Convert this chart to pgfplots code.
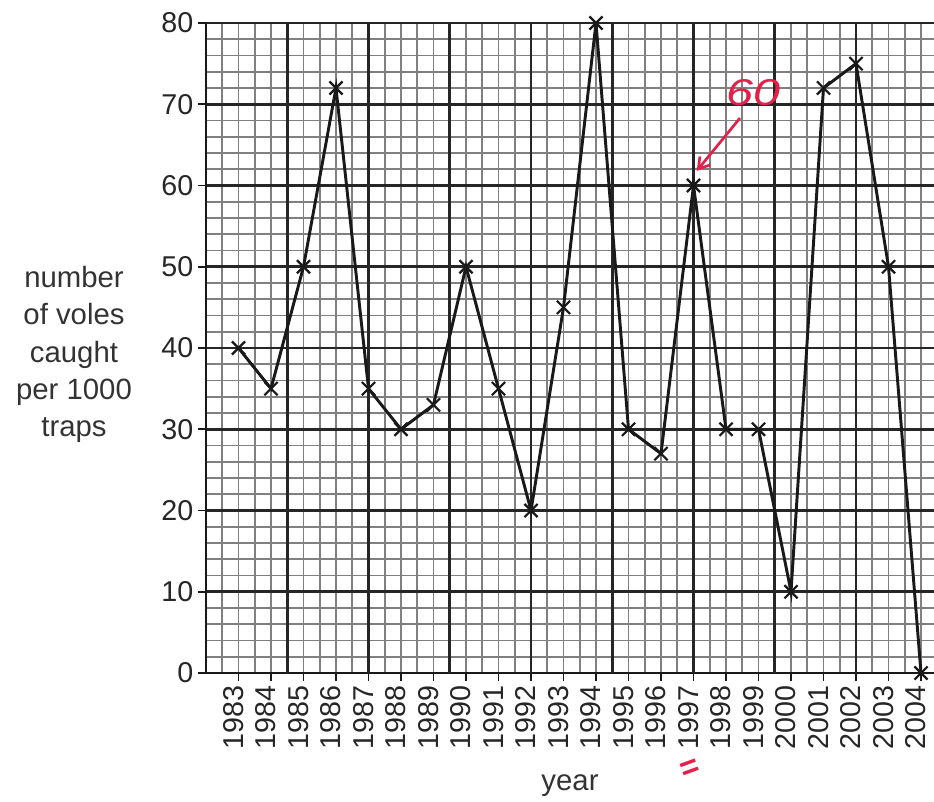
\documentclass[border=0pt]{standalone}
\usepackage{pgfplots}
\pgfplotsset{compat=1.18}
\usepackage{fontspec}
\setmainfont{Liberation Sans}
\usetikzlibrary{arrows.meta}
\definecolor{annot}{RGB}{228,32,72}
\begin{document}
\begin{tikzpicture}
\begin{axis}[
  name=main,
  scale only axis,
  width=546pt, height=487.5pt,
  xmin=1982, xmax=2004.4,
  ymin=0, ymax=80,
  clip=false,
  axis lines=left,
  axis line style={-, line width=1.8pt, black!90},
  tick align=outside,
  major tick length=6pt,
  minor tick length=0pt,
  every tick/.style={black!90, line width=1.4pt},
  xtick={1983,...,2004},
  ytick={0,10,...,80},
  minor xtick={1982,1982.5,...,2004.4},
  minor ytick={0,2,...,80},
  xmajorgrids=false,
  ymajorgrids=true,
  xminorgrids=true,
  yminorgrids=true,
  extra x ticks={1984.5,1987,1989.5,1992,1994.5,1997,1999.5,2002},
  extra x tick labels={},
  extra x tick style={xmajorgrids=true, major tick length=0pt},
  major grid style={black!85, line width=1.9pt},
  minor grid style={black!50, line width=1.3pt},
  /pgf/number format/.cd, 1000 sep={}, assume math mode=true,
  /pgfplots/.cd,
  tick label style={font=\fontsize{21.5}{24}\selectfont, black!85},
  xticklabel style={rotate=90, anchor=east, text height=0.72em, text depth=0pt},
  xlabel={year},
  xlabel style={at={(axis description cs:0.5,0)}, anchor=base, yshift=-87.75pt,
    font=\fontsize{22}{24}\selectfont, black!80},
  ylabel={number\\of voles\\caught\\per 1000\\traps},
  ylabel style={at={(axis description cs:0,0.49)}, rotate=-90, anchor=center,
    xshift=-99pt, align=center, font=\fontsize{22}{28}\selectfont, black!80},
]
\addplot[black!90, line width=2.2pt, mark=x, mark size=7pt,
  mark options={line width=1.6pt}] coordinates {
  (1983,40) (1984,35) (1985,50) (1986,72) (1987,35) (1988,30) (1989,33)
  (1990,50) (1991,35) (1992,20) (1993,45) (1994,80) (1995,30) (1996,27)
  (1997,60) (1998,30) (1999,30) (2000,10) (2001,72) (2002,75) (2003,50)
  (2004,0)
};
\draw[annot, line width=2pt, -{Straight Barb[length=8pt, width=10pt]}]
  (axis cs:1998.43,68.3) -- (axis cs:1997.1,61.8);
\node[annot, xscale=1.3, font=\fontsize{28}{30}\selectfont\itshape] at (axis cs:1998.85,71.4) {60};
\node[annot, rotate=20, font=\fontsize{24}{26}\selectfont\bfseries] at (axis cs:1996.9,-11.9) {=};
\coordinate (O) at (rel axis cs:0,0);
\end{axis}
\pgfresetboundingbox
\path[use as bounding box] (O) ++(-154.5pt,-96pt) rectangle ++(700.5pt,600.75pt);
\end{tikzpicture}
\end{document}
